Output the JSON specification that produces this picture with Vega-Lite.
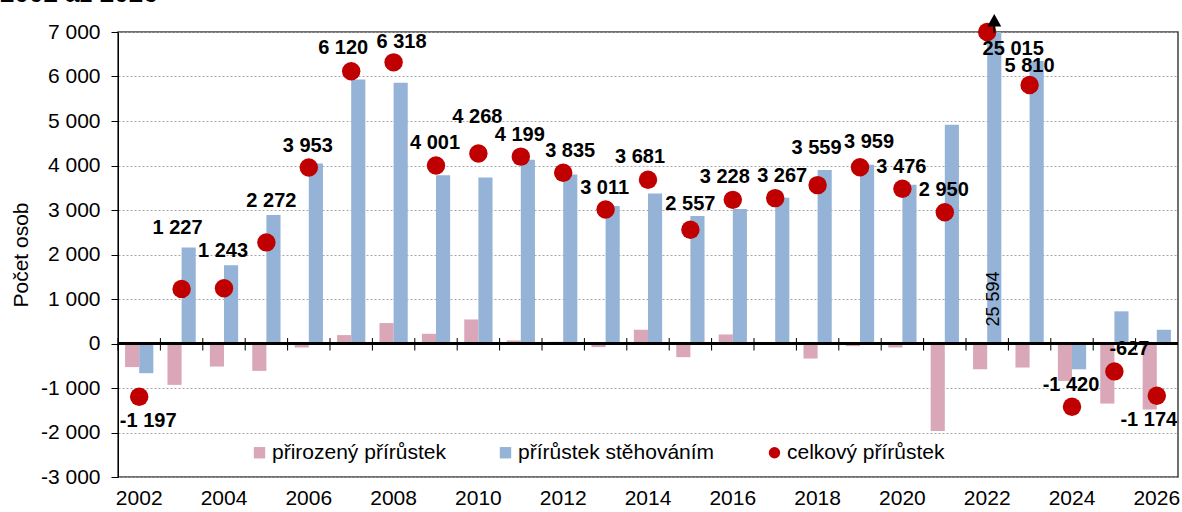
{
  "$schema": "https://vega.github.io/schema/vega-lite/v6.json",
  "width": 1060,
  "height": 445,
  "autosize": {"type": "none"},
  "padding": {"left": 118, "top": 32, "right": 4, "bottom": 35},
  "background": "white",
  "title": {"text": "2002 až 2026", "anchor": "start", "frame": "group", "fontSize": 26, "fontWeight": "bold", "color": "black", "dx": -118, "dy": 24.5, "offset": 11, "baseline": "alphabetic"},
  "config": {
    "font": "Liberation Sans",
    "locale": {"number": {"decimal": ",", "thousands": " ", "grouping": [3], "currency": ["", " Kč"], "minus": "-"}},
    "view": {"stroke": "#404040", "strokeWidth": 1.5},
    "axis": {"labelColor": "black", "labelFontSize": 21, "titleColor": "black", "titleFontWeight": "normal", "titleFontSize": 21, "domainColor": "black", "tickColor": "black", "labelFont": "Liberation Sans", "titleFont": "Liberation Sans"},
    "legend": {"labelFont": "Liberation Sans", "labelFontSize": 21, "labelColor": "black", "labelLimit": 0, "symbolSize": 130, "symbolStrokeWidth": 0, "symbolOpacity": 1, "columnPadding": 49, "labelOffset": 2, "padding": 0}
  },
  "data": {"values": [
    {"rok": 2002, "typ": "přirozený přírůstek", "hodnota": -530},
    {"rok": 2002, "typ": "přírůstek stěhováním", "hodnota": -667},
    {"rok": 2002, "typ": "celkový přírůstek", "hodnota": -1197},
    {"rok": 2003, "typ": "přirozený přírůstek", "hodnota": -930},
    {"rok": 2003, "typ": "přírůstek stěhováním", "hodnota": 2157},
    {"rok": 2003, "typ": "celkový přírůstek", "hodnota": 1227},
    {"rok": 2004, "typ": "přirozený přírůstek", "hodnota": -518},
    {"rok": 2004, "typ": "přírůstek stěhováním", "hodnota": 1761},
    {"rok": 2004, "typ": "celkový přírůstek", "hodnota": 1243},
    {"rok": 2005, "typ": "přirozený přírůstek", "hodnota": -615},
    {"rok": 2005, "typ": "přírůstek stěhováním", "hodnota": 2887},
    {"rok": 2005, "typ": "celkový přírůstek", "hodnota": 2272},
    {"rok": 2006, "typ": "přirozený přírůstek", "hodnota": -90},
    {"rok": 2006, "typ": "přírůstek stěhováním", "hodnota": 4043},
    {"rok": 2006, "typ": "celkový přírůstek", "hodnota": 3953},
    {"rok": 2007, "typ": "přirozený přírůstek", "hodnota": 189},
    {"rok": 2007, "typ": "přírůstek stěhováním", "hodnota": 5931},
    {"rok": 2007, "typ": "celkový přírůstek", "hodnota": 6120},
    {"rok": 2008, "typ": "přirozený přírůstek", "hodnota": 459},
    {"rok": 2008, "typ": "přírůstek stěhováním", "hodnota": 5859},
    {"rok": 2008, "typ": "celkový přírůstek", "hodnota": 6318},
    {"rok": 2009, "typ": "přirozený přírůstek", "hodnota": 218},
    {"rok": 2009, "typ": "přírůstek stěhováním", "hodnota": 3783},
    {"rok": 2009, "typ": "celkový přírůstek", "hodnota": 4001},
    {"rok": 2010, "typ": "přirozený přírůstek", "hodnota": 540},
    {"rok": 2010, "typ": "přírůstek stěhováním", "hodnota": 3728},
    {"rok": 2010, "typ": "celkový přírůstek", "hodnota": 4268},
    {"rok": 2011, "typ": "přirozený přírůstek", "hodnota": 68},
    {"rok": 2011, "typ": "přírůstek stěhováním", "hodnota": 4131},
    {"rok": 2011, "typ": "celkový přírůstek", "hodnota": 4199},
    {"rok": 2012, "typ": "přirozený přírůstek", "hodnota": 38},
    {"rok": 2012, "typ": "přírůstek stěhováním", "hodnota": 3797},
    {"rok": 2012, "typ": "celkový přírůstek", "hodnota": 3835},
    {"rok": 2013, "typ": "přirozený přírůstek", "hodnota": -81},
    {"rok": 2013, "typ": "přírůstek stěhováním", "hodnota": 3092},
    {"rok": 2013, "typ": "celkový přírůstek", "hodnota": 3011},
    {"rok": 2014, "typ": "přirozený přírůstek", "hodnota": 309},
    {"rok": 2014, "typ": "přírůstek stěhováním", "hodnota": 3372},
    {"rok": 2014, "typ": "celkový přírůstek", "hodnota": 3681},
    {"rok": 2015, "typ": "přirozený přírůstek", "hodnota": -307},
    {"rok": 2015, "typ": "přírůstek stěhováním", "hodnota": 2864},
    {"rok": 2015, "typ": "celkový přírůstek", "hodnota": 2557},
    {"rok": 2016, "typ": "přirozený přírůstek", "hodnota": 203},
    {"rok": 2016, "typ": "přírůstek stěhováním", "hodnota": 3025},
    {"rok": 2016, "typ": "celkový přírůstek", "hodnota": 3228},
    {"rok": 2017, "typ": "přirozený přírůstek", "hodnota": -8},
    {"rok": 2017, "typ": "přírůstek stěhováním", "hodnota": 3275},
    {"rok": 2017, "typ": "celkový přírůstek", "hodnota": 3267},
    {"rok": 2018, "typ": "přirozený přírůstek", "hodnota": -338},
    {"rok": 2018, "typ": "přírůstek stěhováním", "hodnota": 3897},
    {"rok": 2018, "typ": "celkový přírůstek", "hodnota": 3559},
    {"rok": 2019, "typ": "přirozený přírůstek", "hodnota": -59},
    {"rok": 2019, "typ": "přírůstek stěhováním", "hodnota": 4018},
    {"rok": 2019, "typ": "celkový přírůstek", "hodnota": 3959},
    {"rok": 2020, "typ": "přirozený přírůstek", "hodnota": -90},
    {"rok": 2020, "typ": "přírůstek stěhováním", "hodnota": 3566},
    {"rok": 2020, "typ": "celkový přírůstek", "hodnota": 3476},
    {"rok": 2021, "typ": "přirozený přírůstek", "hodnota": -1966},
    {"rok": 2021, "typ": "přírůstek stěhováním", "hodnota": 4916},
    {"rok": 2021, "typ": "celkový přírůstek", "hodnota": 2950},
    {"rok": 2022, "typ": "přirozený přírůstek", "hodnota": -579},
    {"rok": 2022, "typ": "přírůstek stěhováním", "hodnota": 25594},
    {"rok": 2022, "typ": "celkový přírůstek", "hodnota": 25015},
    {"rok": 2023, "typ": "přirozený přírůstek", "hodnota": -540},
    {"rok": 2023, "typ": "přírůstek stěhováním", "hodnota": 6350},
    {"rok": 2023, "typ": "celkový přírůstek", "hodnota": 5810},
    {"rok": 2024, "typ": "přirozený přírůstek", "hodnota": -840},
    {"rok": 2024, "typ": "přírůstek stěhováním", "hodnota": -580},
    {"rok": 2024, "typ": "celkový přírůstek", "hodnota": -1420},
    {"rok": 2025, "typ": "přirozený přírůstek", "hodnota": -1350},
    {"rok": 2025, "typ": "přírůstek stěhováním", "hodnota": 723},
    {"rok": 2025, "typ": "celkový přírůstek", "hodnota": -627},
    {"rok": 2026, "typ": "přirozený přírůstek", "hodnota": -1483},
    {"rok": 2026, "typ": "přírůstek stěhováním", "hodnota": 309},
    {"rok": 2026, "typ": "celkový přírůstek", "hodnota": -1174}
  ]},
  "layer": [
    {
      "transform": [{"filter": {"field": "typ", "oneOf": ["přirozený přírůstek", "přírůstek stěhováním"]}}],
      "mark": {"type": "bar"},
      "encoding": {
        "x": {"field": "rok", "type": "ordinal", "scale": {"paddingInner": 0, "paddingOuter": 0},
              "axis": {"title": null, "values": [2002, 2004, 2006, 2008, 2010, 2012, 2014, 2016, 2018, 2020, 2022, 2024, 2026], "labelAngle": 0, "domain": false, "ticks": false, "labelPadding": 10, "grid": false}},
        "xOffset": {"field": "typ", "type": "nominal", "scale": {"domain": ["přirozený přírůstek", "přírůstek stěhováním"], "paddingInner": 0, "paddingOuter": 0.5}},
        "y": {"field": "hodnota", "type": "quantitative", "scale": {"domain": [-3000, 7000], "clamp": true, "nice": false, "zero": true},
              "axis": {"title": "Počet osob", "values": [-3000, -2000, -1000, 0, 1000, 2000, 3000, 4000, 5000, 6000, 7000], "format": ",d", "grid": true, "gridDash": [2, 2], "gridColor": "#A6A6A6", "tickSize": 7, "labelPadding": 11, "titlePadding": 9, "zindex": 0}},
        "color": {"field": "typ", "type": "nominal",
                  "scale": {"domain": ["přirozený přírůstek", "přírůstek stěhováním", "celkový přírůstek"], "range": ["#D9A7B7", "#95B3D7", "#C00000"]},
                  "legend": {"title": null, "orient": "none", "legendX": 131, "legendY": 410, "direction": "horizontal"}}
      }
    },
    {
      "mark": {"type": "rule", "color": "black", "strokeWidth": 1.3},
      "encoding": {"y": {"datum": 0}}
    },
    {
      "transform": [{"filter": {"field": "typ", "equal": "celkový přírůstek"}}],
      "mark": {"type": "rule", "color": "black", "strokeWidth": 1},
      "encoding": {
        "x": {"field": "rok", "type": "ordinal", "bandPosition": 0},
        "y": {"datum": 122},
        "y2": {"datum": -158}
      }
    },
    {
      "transform": [{"filter": {"field": "typ", "equal": "celkový přírůstek"}}],
      "mark": {"type": "point", "filled": true, "size": 340, "opacity": 1, "strokeWidth": 0},
      "encoding": {
        "x": {"field": "rok", "type": "ordinal"},
        "y": {"field": "hodnota", "type": "quantitative"},
        "color": {"field": "typ", "type": "nominal", "legend": {"title": null, "orient": "none", "legendX": 131, "legendY": 410, "direction": "horizontal"}},
        "shape": {"field": "typ", "type": "nominal",
                  "scale": {"domain": ["přirozený přírůstek", "přírůstek stěhováním", "celkový přírůstek"], "range": ["square", "square", "circle"]},
                  "legend": {"title": null, "orient": "none", "legendX": 131, "legendY": 410, "direction": "horizontal"}}
      }
    },
    {
      "transform": [{"filter": {"field": "rok", "equal": 2022}}, {"filter": {"field": "typ", "equal": "přírůstek stěhováním"}}],
      "mark": {"type": "text", "angle": 270, "align": "left", "baseline": "middle", "dx": 17, "fontSize": 18, "color": "black"},
      "encoding": {
        "x": {"field": "rok", "type": "ordinal"},
        "xOffset": {"field": "typ", "type": "nominal"},
        "y": {"datum": 0},
        "text": {"field": "hodnota", "type": "quantitative", "format": ",d"}
      }
    },
    {
      "transform": [{"filter": {"field": "rok", "equal": 2022}}, {"filter": {"field": "typ", "equal": "přírůstek stěhováním"}}],
      "mark": {"type": "point", "filled": true, "size": 1600, "color": "black", "opacity": 1, "strokeWidth": 0,
               "shape": "M0,-0.9L0.35,-0.27L0.05,-0.27L0.05,0.05L-0.05,0.05L-0.05,-0.27L-0.35,-0.27Z"},
      "encoding": {
        "x": {"field": "rok", "type": "ordinal"},
        "xOffset": {"field": "typ", "type": "nominal"},
        "y": {"field": "hodnota", "type": "quantitative"}
      }
    },
    {
      "transform": [{"filter": {"field": "typ", "equal": "celkový přírůstek"}}],
      "encoding": {
        "x": {"field": "rok", "type": "ordinal"},
        "y": {"field": "hodnota", "type": "quantitative"},
        "text": {"field": "hodnota", "type": "quantitative", "format": ",d"}
      },
      "layer": [
        {"transform": [{"filter": {"field": "rok", "oneOf": [2006, 2009, 2011, 2013, 2020, 2021, 2024]}}],
         "mark": {"type": "text", "fontSize": 20, "fontWeight": "bold", "color": "black", "align": "center", "baseline": "middle", "dx": -1, "dy": -22}},
        {"transform": [{"filter": {"field": "rok", "oneOf": [2023]}}],
         "mark": {"type": "text", "fontSize": 20, "fontWeight": "bold", "color": "black", "align": "center", "baseline": "middle", "dx": 0, "dy": -19}},
        {"transform": [{"filter": {"field": "rok", "oneOf": [2007, 2014, 2016]}}],
         "mark": {"type": "text", "fontSize": 20, "fontWeight": "bold", "color": "black", "align": "center", "baseline": "middle", "dx": -8, "dy": -23}},
        {"transform": [{"filter": {"field": "rok", "oneOf": [2012, 2017]}}],
         "mark": {"type": "text", "fontSize": 20, "fontWeight": "bold", "color": "black", "align": "center", "baseline": "middle", "dx": 7, "dy": -22}},
        {"transform": [{"filter": {"field": "rok", "oneOf": [2008]}}],
         "mark": {"type": "text", "fontSize": 20, "fontWeight": "bold", "color": "black", "align": "center", "baseline": "middle", "dx": 8, "dy": -20}},
        {"transform": [{"filter": {"field": "rok", "oneOf": [2019]}}],
         "mark": {"type": "text", "fontSize": 20, "fontWeight": "bold", "color": "black", "align": "center", "baseline": "middle", "dx": 9, "dy": -25}},
        {"transform": [{"filter": {"field": "rok", "oneOf": [2015]}}],
         "mark": {"type": "text", "fontSize": 20, "fontWeight": "bold", "color": "black", "align": "center", "baseline": "middle", "dx": 0, "dy": -26}},
        {"transform": [{"filter": {"field": "rok", "oneOf": [2004, 2010, 2018]}}],
         "mark": {"type": "text", "fontSize": 20, "fontWeight": "bold", "color": "black", "align": "center", "baseline": "middle", "dx": -1, "dy": -37}},
        {"transform": [{"filter": {"field": "rok", "oneOf": [2005]}}],
         "mark": {"type": "text", "fontSize": 20, "fontWeight": "bold", "color": "black", "align": "center", "baseline": "middle", "dx": 5, "dy": -41}},
        {"transform": [{"filter": {"field": "rok", "oneOf": [2003]}}],
         "mark": {"type": "text", "fontSize": 20, "fontWeight": "bold", "color": "black", "align": "center", "baseline": "middle", "dx": -4, "dy": -61}},
        {"transform": [{"filter": {"field": "rok", "oneOf": [2002]}}],
         "mark": {"type": "text", "fontSize": 20, "fontWeight": "bold", "color": "black", "align": "center", "baseline": "middle", "dx": 9, "dy": 24}},
        {"transform": [{"filter": {"field": "rok", "oneOf": [2026]}}],
         "mark": {"type": "text", "fontSize": 20, "fontWeight": "bold", "color": "black", "align": "center", "baseline": "middle", "dx": -8, "dy": 24}},
        {"transform": [{"filter": {"field": "rok", "oneOf": [2025]}}],
         "mark": {"type": "text", "fontSize": 20, "fontWeight": "bold", "color": "black", "align": "center", "baseline": "middle", "dx": 15, "dy": -22}},
        {"transform": [{"filter": {"field": "rok", "oneOf": [2022]}}],
         "mark": {"type": "text", "fontSize": 20, "fontWeight": "bold", "color": "black", "align": "center", "baseline": "middle", "dx": 26, "dy": 17}}
      ]
    }
  ]
}
